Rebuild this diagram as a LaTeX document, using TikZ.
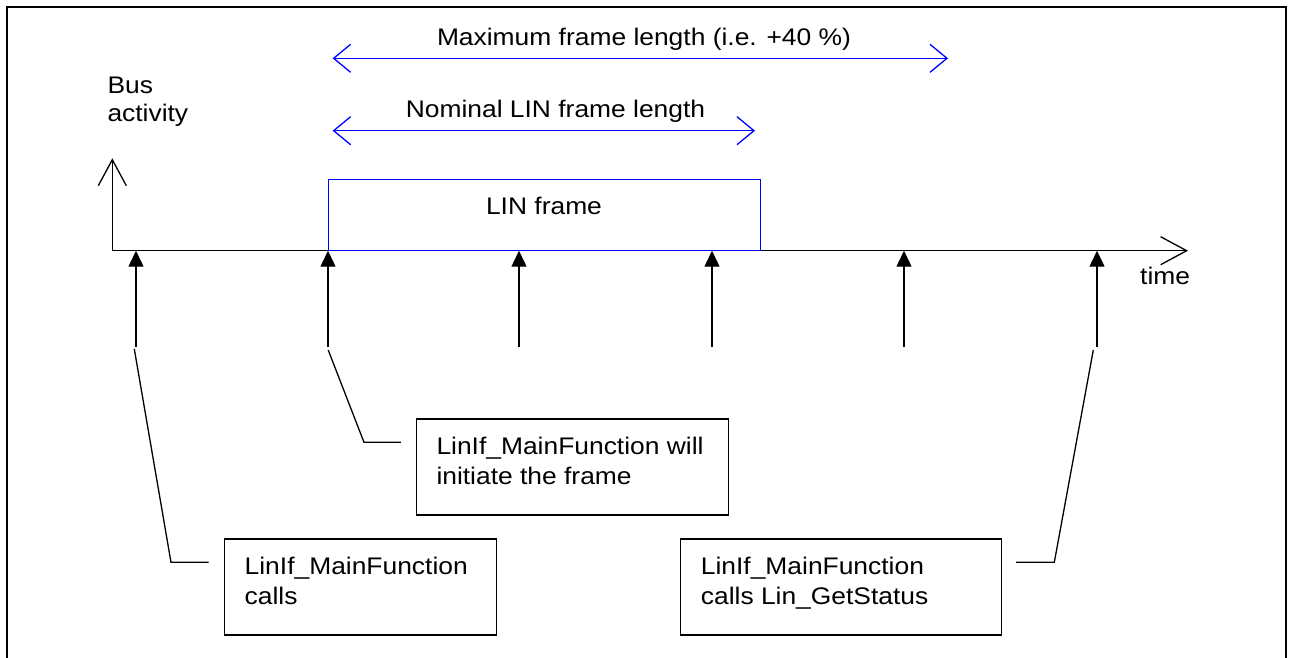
\documentclass[tikz,border=0pt]{standalone}
\usepackage{fontspec}
\setmainfont{Liberation Sans}[FakeStretch=1.1]
\usetikzlibrary{arrows.meta}
\begin{document}
\begin{tikzpicture}[x=1pt,y=-1pt,
  every node/.style={font=\fontsize{24}{30}\selectfont, inner sep=0pt},
  frameline/.style={line width=2pt, black},
  axisline/.style={line width=1.3pt, black,
    {Straight Barb[length=26pt,width=28pt]}-{Straight Barb[length=26pt,width=28pt]}},
  tickarrow/.style={line width=1.3pt, -{Triangle[length=16pt,width=15pt]}},
  leader/.style={line width=1.3pt},
  callbox/.style={draw, line width=1.3pt, minimum height=96pt, anchor=north west},
  calltext/.style={anchor=base west, align=left},
  span/.style={draw=blue, line width=1.3pt,
    {Straight Barb[length=17pt,width=28pt]}-{Straight Barb[length=17pt,width=28pt]}},
  framebox/.style={draw=blue, line width=1.3pt},
]
\useasboundingbox (0,0) rectangle (1291,657);
% outer frame (open at the bottom)
\draw[frameline] (6.7,660) |- (1286.3,6.7) -- (1286.3,660);

% axes
\coordinate (origin) at (112.3,250.7);
\coordinate (ytop) at (112.3,158.3);
\coordinate (xend) at (1188,250.7);
\draw[axisline] (ytop) -- (origin) -- (xend);
\node[anchor=base west, align=left, font=\fontsize{24}{28.5}\selectfont] (bus) at (107.3,121.7) {Bus\\activity};
\node[anchor=base west] (time) at (1140,284) {time};

% LIN frame
\node[framebox, anchor=north west, minimum width=432pt, minimum height=71.3pt] (frame) at (328,178.7) {};
\node[anchor=base] (frametxt) at (544,214) {LIN frame};

% length spans
\coordinate (maxL) at (332.6,58.3);
\coordinate (maxR) at (948,58.3);
\draw[span] (maxL) -- (maxR);
\node[anchor=base] (maxtxt) at (644,45) {Maximum frame length (i.e. +40 \%)};
\coordinate (nomL) at (332.6,130.7);
\coordinate (nomR) at (755,130.7);
\draw[span] (nomL) -- (nomR);
\node[anchor=base] (nomtxt) at (555.5,117) {Nominal LIN frame length};

% MainFunction call ticks
\foreach \n/\x in {1/136,2/328,3/519,4/712,5/904,6/1097}{
  \coordinate (tb\n) at (\x,347);
  \coordinate (tt\n) at (\x,250.7);
  \draw[tickarrow] (tb\n) -- (tt\n);
}

% callout boxes
\node[callbox, minimum width=272pt] (box1) at (224,538.3) {};
\node[calltext] (txt1) at (244.5,604.3) {LinIf\_MainFunction\\calls};
\node[callbox, minimum width=312pt] (box2) at (416,418.3) {};
\node[calltext] (txt2) at (436.3,484) {LinIf\_MainFunction will\\initiate the frame};
\node[callbox, minimum width=320.7pt] (box3) at (680,538.3) {};
\node[calltext] (txt3) at (700.7,604.3) {LinIf\_MainFunction\\calls Lin\_GetStatus};

% leaders
\coordinate (l1s) at (134.3,349);
\coordinate (l1e) at (208.6,562.3);
\draw[leader] (l1s) -- (171,562.3) -- (l1e);
\coordinate (l2s) at (328.2,350);
\coordinate (l2e) at (400.8,442.3);
\draw[leader] (l2s) -- (364,442.3) -- (l2e);
\coordinate (l3s) at (1093.3,350);
\coordinate (l3e) at (1016,562.3);
\draw[leader] (l3s) -- (1054.3,562.3) -- (l3e);
\end{tikzpicture}
\end{document}
